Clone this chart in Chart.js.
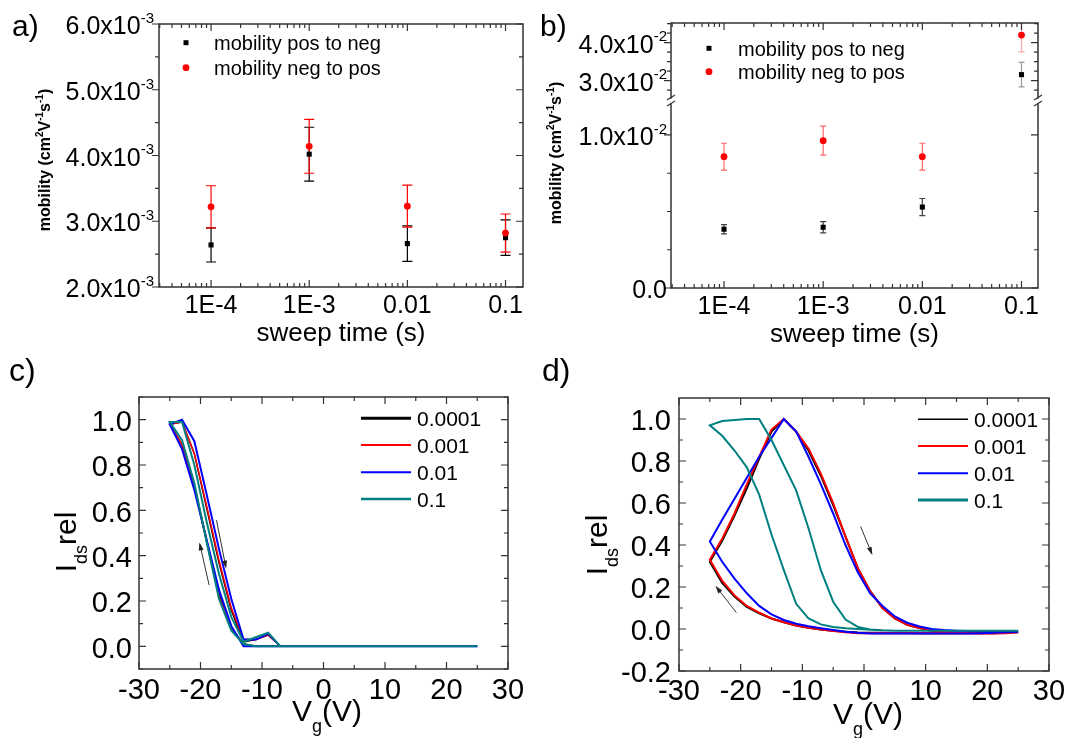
<!DOCTYPE html>
<html>
<head>
<meta charset="utf-8">
<title>Mobility vs sweep time and transfer hysteresis</title>
<script src="https://cdn.jsdelivr.net/npm/chart.js@4.4.1/dist/chart.umd.min.js"></script>
<style>
  html, body { margin: 0; padding: 0; background: #fff; }
  #page { position: relative; width: 1069px; height: 738px; overflow: hidden; background: #fff; }
  #page canvas { position: absolute; }
</style>
</head>
<body>
<div id="page">
  <canvas id="chartA" width="534" height="360" style="left:0;top:0"></canvas>
  <canvas id="chartB" width="535" height="360" style="left:534px;top:0"></canvas>
  <canvas id="chartC" width="534" height="398" style="left:0;top:340px"></canvas>
  <canvas id="chartD" width="535" height="398" style="left:534px;top:340px"></canvas>
</div>
<script>
// ---- data ----

// panels a and b: mobility vs sweep time
const sweepTimes = [1e-4, 1e-3, 1e-2, 1e-1];
const sweepTickLabels = ['1E-4', '1E-3', '0.01', '0.1'];
const sweepLegend = ['mobility pos to neg', 'mobility neg to pos'];

const aPosToNeg = [0.00264, 0.00402, 0.00266, 0.00275];
const aPosToNegErr = [0.00026, 0.00041, 0.00027, 0.00027];
const aNegToPos = [0.00322, 0.00414, 0.00323, 0.00282];
const aNegToPosErr = [0.00032, 0.00041, 0.00032, 0.00029];
const aYTicks = [0.002, 0.003, 0.004, 0.005, 0.006];
const aYTickLabels = ['2.0x10^{-3}', '3.0x10^{-3}', '4.0x10^{-3}', '5.0x10^{-3}', '6.0x10^{-3}'];

const bPosToNeg = [0.00384, 0.00397, 0.00529, 0.0316];
const bPosToNegErr = [0.0003, 0.00037, 0.00056, 0.0032];
const bNegToPos = [0.00858, 0.00963, 0.00858, 0.0420];
const bNegToPosErr = [0.00088, 0.00095, 0.00088, 0.0044];
const bLowerTicks = [0, 0.01];
const bLowerTickLabels = ['0.0', '1.0x10^{-2}'];
const bUpperTicks = [0.03, 0.04];
const bUpperTickLabels = ['3.0x10^{-2}', '4.0x10^{-2}'];

// panels c and d: normalised Ids over a gate sweep 25 V -> -25 V -> 25 V
const loopLegend = ['0.0001', '0.001', '0.01', '0.1'];
const vgDown = [25, 23, 21, 19, 17, 15, 13, 11, 9, 7, 5, 3, 1, -1, -3, -5, -7, -9, -11, -13, -15, -17, -19, -21, -23, -25];
const vgUp = [-25, -23, -21, -19, -17, -15, -13, -11, -9, -7, -5, -3, -1, 1, 3, 5, 7, 9, 11, 13, 15, 17, 19, 21, 23, 25];
const vgTicks = [-30, -20, -10, 0, 10, 20, 30];
const vgTickLabels = ['-30', '-20', '-10', '0', '10', '20', '30'];

const cDown0001 = [0, 0, 0, 0, 0, 0, 0, 0, 0, 0, 0, 0, 0, 0, 0, 0, 0, 0, 0, 0.01, 0.08, 0.23, 0.47, 0.71, 0.89, 0.98];
const cDown001  = [0, 0, 0, 0, 0, 0, 0, 0, 0, 0, 0, 0, 0, 0, 0, 0, 0, 0, 0, 0.01, 0.08, 0.22, 0.46, 0.70, 0.89, 0.98];
const cDown01   = [0, 0, 0, 0, 0, 0, 0, 0, 0, 0, 0, 0, 0, 0, 0, 0, 0, 0, 0, 0.0, 0.09, 0.25, 0.47, 0.69, 0.87, 0.98];
const cDown1    = [0, 0, 0, 0, 0, 0, 0, 0, 0, 0, 0, 0, 0, 0, 0, 0, 0, 0, 0, 0.01, 0.07, 0.21, 0.46, 0.72, 0.91, 0.99];
const cUp0001 = [0.98, 0.99, 0.85, 0.61, 0.37, 0.16, 0.02, 0.03, 0.05, 0, 0, 0, 0, 0, 0, 0, 0, 0, 0, 0, 0, 0, 0, 0, 0, 0];
const cUp001  = [0.98, 0.99, 0.85, 0.62, 0.38, 0.17, 0.03, 0.03, 0.05, 0, 0, 0, 0, 0, 0, 0, 0, 0, 0, 0, 0, 0, 0, 0, 0, 0];
const cUp01   = [0.98, 1.0, 0.905, 0.67, 0.43, 0.21, 0.03, 0.03, 0.055, 0, 0, 0, 0, 0, 0, 0, 0, 0, 0, 0, 0, 0, 0, 0, 0, 0];
const cUp1    = [0.99, 0.99, 0.80, 0.55, 0.32, 0.13, 0.02, 0.04, 0.06, 0, 0, 0, 0, 0, 0, 0, 0, 0, 0, 0, 0, 0, 0, 0, 0, 0];
const cYTicks = [0, 0.2, 0.4, 0.6, 0.8, 1.0];
const cYTickLabels = ['0.0', '0.2', '0.4', '0.6', '0.8', '1.0'];

const dDown0001 = [-0.015, -0.018, -0.02, -0.02, -0.02, -0.02, -0.02, -0.02, -0.02, -0.019, -0.019, -0.018, -0.018, -0.017, -0.013, -0.008, -0.002, 0.006, 0.016, 0.032, 0.05, 0.075, 0.105, 0.155, 0.22, 0.32];
const dDown001  = [-0.015, -0.018, -0.022, -0.021, -0.02, -0.02, -0.02, -0.02, -0.02, -0.02, -0.02, -0.02, -0.02, -0.02, -0.015, -0.01, -0.003, 0.006, 0.016, 0.032, 0.05, 0.078, 0.11, 0.16, 0.23, 0.33];
const dDown01   = [-0.013, -0.016, -0.018, -0.02, -0.021, -0.021, -0.021, -0.021, -0.021, -0.021, -0.021, -0.021, -0.021, -0.018, -0.013, -0.005, 0.004, 0.013, 0.025, 0.043, 0.07, 0.11, 0.17, 0.24, 0.32, 0.417];
const dDown1    = [-0.008, -0.008, -0.008, -0.008, -0.008, -0.008, -0.008, -0.008, -0.008, -0.008, -0.008, -0.006, -0.003, 0.0, 0.004, 0.01, 0.022, 0.05, 0.12, 0.28, 0.45, 0.64, 0.77, 0.85, 0.92, 0.97];
const dUp0001 = [0.32, 0.42, 0.54, 0.67, 0.81, 0.94, 1.0, 0.94, 0.85, 0.73, 0.59, 0.44, 0.29, 0.18, 0.10, 0.05, 0.02, 0.005, -0.008, -0.015, -0.018, -0.02, -0.02, -0.02, -0.018, -0.015];
const dUp001  = [0.33, 0.43, 0.55, 0.69, 0.82, 0.95, 1.0, 0.94, 0.86, 0.74, 0.60, 0.44, 0.29, 0.18, 0.10, 0.05, 0.02, 0.005, -0.008, -0.015, -0.018, -0.02, -0.02, -0.022, -0.02, -0.015];
const dUp01   = [0.417, 0.52, 0.62, 0.72, 0.82, 0.91, 1.0, 0.94, 0.82, 0.69, 0.55, 0.40, 0.27, 0.17, 0.11, 0.06, 0.03, 0.012, 0.0, -0.005, -0.008, -0.01, -0.01, -0.012, -0.012, -0.013];
const dUp1    = [0.97, 0.99, 0.995, 1.0, 1.0, 0.90, 0.78, 0.66, 0.48, 0.28, 0.13, 0.045, 0.01, -0.002, -0.006, -0.008, -0.008, -0.008, -0.008, -0.008, -0.008, -0.008, -0.008, -0.008, -0.008, -0.008];
const dYTicks = [-0.2, 0, 0.2, 0.4, 0.6, 0.8, 1.0];
const dYTickLabels = ['-0.2', '0.0', '0.2', '0.4', '0.6', '0.8', '1.0'];

// ---- helpers ----
const FONT = '"Liberation Sans", Arial, Helvetica, sans-serif';
const COLORS = ['#000000', '#ff0000', '#0000ff', '#008080'];

function scatterPoints(xs, ys, errs, keep) {
    const out = [];
    xs.forEach((x, i) => {
        if (!keep || keep(ys[i])) out.push({ x: x, y: ys[i], err: errs[i] });
    });
    return out;
}

function loopPoints(vDown, iDown, vUp, iUp) {
    const pts = [];
    vDown.forEach((v, i) => pts.push({ x: v, y: iDown[i] }));
    vUp.forEach((v, i) => pts.push({ x: v, y: iUp[i] }));
    return pts;
}

function steps(from, to, step) {
    const out = [];
    for (let v = from; v <= to + 1e-9; v += step) out.push(+v.toFixed(6));
    return out;
}

function logMinor(lo, hi) {
    const out = [];
    for (let d = -6; d <= 1; d++) {
        for (let k = 2; k <= 9; k++) {
            const v = k * Math.pow(10, d);
            if (v >= lo && v <= hi) out.push(v);
        }
    }
    return out;
}

// tiny markup: ^{..} superscript, _{..} subscript
function parseRich(str) {
    const parts = [];
    const re = /([\^_])\{([^}]*)\}/g;
    let last = 0, m;
    while ((m = re.exec(str))) {
        if (m.index > last) parts.push({ t: str.slice(last, m.index), mode: 0 });
        parts.push({ t: m[2], mode: m[1] === '^' ? 1 : -1 });
        last = re.lastIndex;
    }
    if (last < str.length) parts.push({ t: str.slice(last), mode: 0 });
    return parts;
}

function drawRich(ctx, str, x, y, st) {
    const parts = parseRich(str);
    const weight = st.weight || 'normal';
    const small = st.small || Math.round(st.size * 0.6);
    const fontFor = p => `${weight} ${p.mode ? small : st.size}px ${FONT}`;
    let total = 0;
    parts.forEach(p => {
        ctx.font = fontFor(p);
        p.w = ctx.measureText(p.t).width;
        total += p.w;
    });
    let cx = st.align === 'right' ? x - total : st.align === 'center' ? x - total / 2 : x;
    ctx.fillStyle = '#000';
    ctx.textAlign = 'left';
    ctx.textBaseline = 'alphabetic';
    parts.forEach(p => {
        ctx.font = fontFor(p);
        const dy = p.mode === 1 ? -st.size * 0.45 : p.mode === -1 ? st.size * 0.37 : 0;
        ctx.fillText(p.t, cx, y + dy);
        cx += p.w;
    });
}

// Origin-style frame, ticks, labels, legend, error bars, arrows
const originPlugin = {
    id: 'origin',
    beforeDatasetsDraw(chart, args, o) {
        const { ctx, chartArea: a } = chart;
        ctx.save();
        ctx.beginPath();
        ctx.rect(a.left, a.top, a.right - a.left, a.bottom - a.top);
        ctx.clip();
        chart.data.datasets.forEach(ds => {
            if (!ds.errorColor) return;
            const xs = chart.scales.x;
            const ys = chart.scales[ds.yAxisID || 'y'];
            ctx.strokeStyle = ds.errorColor;
            ctx.lineWidth = 1.2;
            ctx.beginPath();
            ds.data.forEach(p => {
                const x = xs.getPixelForValue(p.x);
                const y1 = ys.getPixelForValue(p.y - p.err);
                const y2 = ys.getPixelForValue(p.y + p.err);
                ctx.moveTo(x, y1); ctx.lineTo(x, y2);
                ctx.moveTo(x - o.capHalf, y1); ctx.lineTo(x + o.capHalf, y1);
                ctx.moveTo(x - o.capHalf, y2); ctx.lineTo(x + o.capHalf, y2);
            });
            ctx.stroke();
        });
        ctx.restore();
    },
    afterDraw(chart, args, o) {
        const { ctx, chartArea: a } = chart;
        const ox = o.offset[0], oy = o.offset[1];
        const xs = chart.scales.x;
        ctx.save();

        // frame (with axis break if any)
        ctx.strokeStyle = '#333';
        ctx.lineWidth = 1.5;
        ctx.lineCap = 'square';
        const br = o.breakScale ? chart.scales[o.breakScale].bottom : null;
        ctx.beginPath();
        ctx.moveTo(a.left, a.top); ctx.lineTo(a.right, a.top);
        ctx.moveTo(a.left, a.bottom); ctx.lineTo(a.right, a.bottom);
        [a.left, a.right].forEach(x => {
            if (br === null) {
                ctx.moveTo(x, a.top); ctx.lineTo(x, a.bottom);
            } else {
                ctx.moveTo(x, a.top); ctx.lineTo(x, br - 3);
                ctx.moveTo(x, br + 3); ctx.lineTo(x, a.bottom);
            }
        });
        ctx.stroke();
        if (br !== null) {
            ctx.lineWidth = 1.2;
            ctx.lineCap = 'butt';
            ctx.beginPath();
            [a.left, a.right].forEach(x => {
                ctx.moveTo(x - 4, br - 1); ctx.lineTo(x + 4, br - 6);
                ctx.moveTo(x - 4, br + 5); ctx.lineTo(x + 4, br);
            });
            ctx.stroke();
        }

        // ticks, inward except optionally the left axis
        ctx.lineWidth = 1.2;
        ctx.lineCap = 'butt';
        ctx.beginPath();
        const tickX = (v, len) => {
            const x = xs.getPixelForValue(v);
            if (x < a.left - 0.5 || x > a.right + 0.5) return;
            ctx.moveTo(x, a.bottom); ctx.lineTo(x, a.bottom - len);
            ctx.moveTo(x, a.top); ctx.lineTo(x, a.top + len);
        };
        o.x.major.forEach(v => tickX(v, 7));
        o.x.minor.forEach(v => tickX(v, 4));
        o.y.forEach(ax => {
            const ys = chart.scales[ax.scale];
            const tickY = (v, len) => {
                const y = ys.getPixelForValue(v);
                if (y < ys.top - 0.5 || y > ys.bottom + 0.5) return;
                if (o.leftOut) { ctx.moveTo(a.left - len, y); ctx.lineTo(a.left, y); }
                else { ctx.moveTo(a.left, y); ctx.lineTo(a.left + len, y); }
                ctx.moveTo(a.right, y); ctx.lineTo(a.right - len, y);
            };
            ax.major.forEach(v => tickY(v, 7));
            ax.minor.forEach(v => tickY(v, 4));
        });
        ctx.stroke();

        // tick labels
        const T = (str, x, y, st) => drawRich(ctx, str, x - ox, y - oy, st);
        o.x.labels.forEach((s, i) => {
            const x = xs.getPixelForValue(o.x.major[i]) + ox;
            T(s, x, o.x.baseline, { size: o.tickSize, small: o.supSize, align: 'center' });
        });
        o.y.forEach(ax => {
            const ys = chart.scales[ax.scale];
            ax.labels.forEach((s, i) => {
                const y = ys.getPixelForValue(ax.major[i]) + oy;
                T(s, o.yLabelRight, y + o.tickSize * 0.36 + 1, { size: o.tickSize, small: o.supSize, align: 'right' });
            });
        });

        // axis titles
        const xt = o.xTitle;
        T(xt.text, xt.x, xt.y, { size: xt.size, small: xt.small, align: 'center' });
        const yt = o.yTitle;
        ctx.save();
        ctx.translate(yt.x - ox, yt.y - oy);
        ctx.rotate(-Math.PI / 2);
        drawRich(ctx, yt.text, 0, 0, { size: yt.size, small: yt.small, weight: yt.weight, align: 'center' });
        ctx.restore();

        // panel letter
        T(o.panel.text, o.panel.x, o.panel.y, { size: o.panel.size, align: 'left' });

        // legend
        const lg = o.legend;
        chart.data.datasets.forEach(ds => {
            if (ds.legendRow === undefined) return;
            const ry = lg.rows[ds.legendRow] - oy;
            if (lg.kind === 'marker') {
                const mx = lg.mx - ox;
                ctx.fillStyle = ds.pointBackgroundColor;
                ctx.beginPath();
                if (ds.pointStyle === 'rect') ctx.rect(mx - 2.5, ry - 2.5, 5, 5);
                else ctx.arc(mx, ry, 3.4, 0, Math.PI * 2);
                ctx.fill();
            } else {
                ctx.strokeStyle = ds.borderColor;
                ctx.lineWidth = ds.legendWidth;
                ctx.beginPath();
                ctx.moveTo(lg.x1 - ox, ry); ctx.lineTo(lg.x2 - ox, ry);
                ctx.stroke();
            }
            drawRich(ctx, ds.label, lg.tx - ox, ry + lg.size * 0.36, { size: lg.size, align: 'left' });
        });

        // sweep direction arrows (data units)
        (o.arrows || []).forEach(ar => {
            const ys = chart.scales.y;
            const x1 = xs.getPixelForValue(ar.from[0]), y1 = ys.getPixelForValue(ar.from[1]);
            const x2 = xs.getPixelForValue(ar.to[0]), y2 = ys.getPixelForValue(ar.to[1]);
            const ang = Math.atan2(y2 - y1, x2 - x1);
            ctx.strokeStyle = '#333';
            ctx.fillStyle = '#222';
            ctx.lineWidth = 1;
            ctx.beginPath();
            ctx.moveTo(x1, y1); ctx.lineTo(x2, y2);
            ctx.stroke();
            ctx.beginPath();
            ctx.moveTo(x2 + Math.cos(ang) * 2, y2 + Math.sin(ang) * 2);
            ctx.lineTo(x2 - Math.cos(ang) * 6 - Math.sin(ang) * 2.5, y2 - Math.sin(ang) * 6 + Math.cos(ang) * 2.5);
            ctx.lineTo(x2 - Math.cos(ang) * 6 + Math.sin(ang) * 2.5, y2 - Math.sin(ang) * 6 - Math.cos(ang) * 2.5);
            ctx.closePath();
            ctx.fill();
        });

        ctx.restore();
    }
};

function baseOptions(padding, scales, origin) {
    return {
        responsive: false,
        animation: false,
        events: [],
        layout: { padding: padding },
        scales: scales,
        plugins: { legend: { display: false }, tooltip: { enabled: false }, origin: origin }
    };
}

function markerSet(label, data, style, color, order, row, axis, errColor) {
    return {
        label: label,
        data: data,
        yAxisID: axis || 'y',
        pointStyle: style,
        pointRadius: style === 'rect' ? 3.6 : 3.4,
        pointBackgroundColor: color,
        pointBorderColor: color,
        pointBorderWidth: 0,
        errorColor: errColor || color,
        legendRow: row,
        order: order
    };
}

function loopSet(label, data, color, width, legendWidth, order) {
    return {
        label: label,
        data: data,
        showLine: true,
        borderColor: color,
        borderWidth: width,
        pointRadius: 0,
        tension: 0,
        legendRow: 3 - order,
        legendWidth: legendWidth,
        order: order
    };
}

// ---- panel a ----
new Chart(document.getElementById('chartA'), {
    type: 'scatter',
    data: {
        datasets: [
            markerSet(sweepLegend[0], scatterPoints(sweepTimes, aPosToNeg, aPosToNegErr), 'rect', COLORS[0], 1, 0),
            markerSet(sweepLegend[1], scatterPoints(sweepTimes, aNegToPos, aNegToPosErr), 'circle', COLORS[1], 0, 1)
        ]
    },
    options: baseOptions(
        { left: 159, top: 24, right: 11, bottom: 73 },
        {
            x: { type: 'logarithmic', min: 2.95e-5, max: 0.1507, display: false },
            y: { type: 'linear', min: 0.002, max: 0.006, display: false }
        },
        {
            offset: [0, 0],
            leftOut: true,
            capHalf: 5,
            tickSize: 25, supSize: 15,
            panel: { text: 'a)', x: 12, y: 36, size: 30 },
            x: { major: sweepTimes, minor: logMinor(2.95e-5, 0.1507), labels: sweepTickLabels, baseline: 313 },
            y: [{ scale: 'y', major: aYTicks, minor: steps(0.0025, 0.0055, 0.001), labels: aYTickLabels }],
            yLabelRight: 154,
            xTitle: { text: 'sweep time (s)', x: 341, y: 341, size: 26 },
            yTitle: { text: 'mobility (cm^{2}V^{-1}s^{-1})', x: 50, y: 160, size: 16, small: 10, weight: 'bold' },
            legend: { kind: 'marker', mx: 186, tx: 214, rows: [42.7, 67.7], size: 20 }
        }
    ),
    plugins: [originPlugin]
});

// ---- panel b (broken y axis: two stacked scales) ----
const bLowerMax = 0.01222;
const bUpperMin = 0.02466;
new Chart(document.getElementById('chartB'), {
    type: 'scatter',
    data: {
        datasets: [
            markerSet(sweepLegend[0], scatterPoints(sweepTimes, bPosToNeg, bPosToNegErr, v => v < bLowerMax), 'rect', COLORS[0], 3, 0, 'y', 'rgba(0,0,0,0.75)'),
            markerSet(sweepLegend[1], scatterPoints(sweepTimes, bNegToPos, bNegToPosErr, v => v < bLowerMax), 'circle', COLORS[1], 2, 1, 'y', 'rgba(255,0,0,0.6)'),
            markerSet(sweepLegend[0], scatterPoints(sweepTimes, bPosToNeg, bPosToNegErr, v => v > bUpperMin), 'rect', COLORS[0], 1, undefined, 'y2', 'rgba(0,0,0,0.4)'),
            markerSet(sweepLegend[1], scatterPoints(sweepTimes, bNegToPos, bNegToPosErr, v => v > bUpperMin), 'circle', COLORS[1], 0, undefined, 'y2', 'rgba(255,0,0,0.35)')
        ]
    },
    options: baseOptions(
        { left: 137, top: 23, right: 31, bottom: 72 },
        {
            x: { type: 'logarithmic', min: 2.92e-5, max: 0.1467, display: false },
            y: { type: 'linear', min: 0, max: bLowerMax, display: false, stack: 'mob', stackWeight: 187, weight: 1 },
            y2: { type: 'linear', min: bUpperMin, max: 0.04518, display: false, stack: 'mob', stackWeight: 78, weight: 2 }
        },
        {
            offset: [534, 0],
            leftOut: true,
            breakScale: 'y2',
            capHalf: 3,
            tickSize: 25, supSize: 15,
            panel: { text: 'b)', x: 540, y: 36, size: 30 },
            x: { major: sweepTimes, minor: logMinor(2.92e-5, 0.1467), labels: sweepTickLabels, baseline: 314 },
            y: [
                { scale: 'y', major: bLowerTicks, minor: [0.0025, 0.005, 0.0075], labels: bLowerTickLabels },
                { scale: 'y2', major: bUpperTicks, minor: [0.0275, 0.0325, 0.035, 0.0375, 0.0425, 0.045], labels: bUpperTickLabels }
            ],
            yLabelRight: 667,
            xTitle: { text: 'sweep time (s)', x: 854.5, y: 342, size: 26 },
            yTitle: { text: 'mobility (cm^{2}V^{-1}s^{-1})', x: 561, y: 153, size: 16, small: 10, weight: 'bold' },
            legend: { kind: 'marker', mx: 709, tx: 738, rows: [48.3, 71.7], size: 20 }
        }
    ),
    plugins: [originPlugin]
});

// ---- panel c ----
new Chart(document.getElementById('chartC'), {
    type: 'scatter',
    data: {
        datasets: [
            loopSet(loopLegend[0], loopPoints(vgDown, cDown0001, vgUp, cUp0001), COLORS[0], 1.5, 3, 3),
            loopSet(loopLegend[1], loopPoints(vgDown, cDown001, vgUp, cUp001), COLORS[1], 1.5, 2, 2),
            loopSet(loopLegend[2], loopPoints(vgDown, cDown01, vgUp, cUp01), COLORS[2], 2, 2, 1),
            loopSet(loopLegend[3], loopPoints(vgDown, cDown1, vgUp, cUp1), COLORS[3], 2, 2.5, 0)
        ]
    },
    options: baseOptions(
        { left: 139, top: 57, right: 26, bottom: 69 },
        {
            x: { type: 'linear', min: -30, max: 30, display: false },
            y: { type: 'linear', min: -0.1, max: 1.1, display: false }
        },
        {
            offset: [0, 340],
            leftOut: false,
            tickSize: 29, supSize: 17,
            panel: { text: 'c)', x: 9, y: 381, size: 32 },
            x: { major: vgTicks, minor: steps(-25, 25, 10), labels: vgTickLabels, baseline: 699 },
            y: [{ scale: 'y', major: cYTicks, minor: steps(-0.1, 1.1, 0.2), labels: cYTickLabels }],
            yLabelRight: 132,
            xTitle: { text: 'V_{g}(V)', x: 327, y: 721, size: 30, small: 18 },
            yTitle: { text: 'I_{ds}rel', x: 76, y: 542, size: 30, small: 18 },
            legend: { kind: 'line', x1: 361, x2: 411, tx: 417, rows: [418.3, 445, 472.3, 499], size: 21 },
            arrows: [
                { from: [-17.4, 0.557], to: [-15.9, 0.352] },
                { from: [-18.6, 0.27], to: [-20.1, 0.45] }
            ]
        }
    ),
    plugins: [originPlugin]
});

// ---- panel d ----
new Chart(document.getElementById('chartD'), {
    type: 'scatter',
    data: {
        datasets: [
            loopSet(loopLegend[0], loopPoints(vgDown, dDown0001, vgUp, dUp0001), COLORS[0], 2, 1.5, 3),
            loopSet(loopLegend[1], loopPoints(vgDown, dDown001, vgUp, dUp001), COLORS[1], 2, 2, 2),
            loopSet(loopLegend[2], loopPoints(vgDown, dDown01, vgUp, dUp01), COLORS[2], 2, 2, 1),
            loopSet(loopLegend[3], loopPoints(vgDown, dDown1, vgUp, dUp1), COLORS[3], 2, 3, 0)
        ]
    },
    options: baseOptions(
        { left: 145, top: 58, right: 20, bottom: 67 },
        {
            x: { type: 'linear', min: -30, max: 30, display: false },
            y: { type: 'linear', min: -0.2, max: 1.1, display: false }
        },
        {
            offset: [534, 340],
            leftOut: false,
            tickSize: 29, supSize: 17,
            panel: { text: 'd)', x: 542, y: 381, size: 32 },
            x: { major: vgTicks, minor: steps(-25, 25, 10), labels: vgTickLabels, baseline: 700 },
            y: [{ scale: 'y', major: dYTicks, minor: steps(-0.1, 0.9, 0.2), labels: dYTickLabels }],
            yLabelRight: 671,
            xTitle: { text: 'V_{g}(V)', x: 868, y: 724, size: 30, small: 18 },
            yTitle: { text: 'I_{ds}rel', x: 607, y: 545, size: 30, small: 18 },
            legend: { kind: 'line', x1: 918, x2: 968, tx: 974, rows: [419.3, 446, 473.3, 500], size: 21 },
            arrows: [
                { from: [-0.55, 0.488], to: [1.23, 0.361] },
                { from: [-20.7, 0.078], to: [-23.9, 0.199] }
            ]
        }
    ),
    plugins: [originPlugin]
});
</script>
</body>
</html>
